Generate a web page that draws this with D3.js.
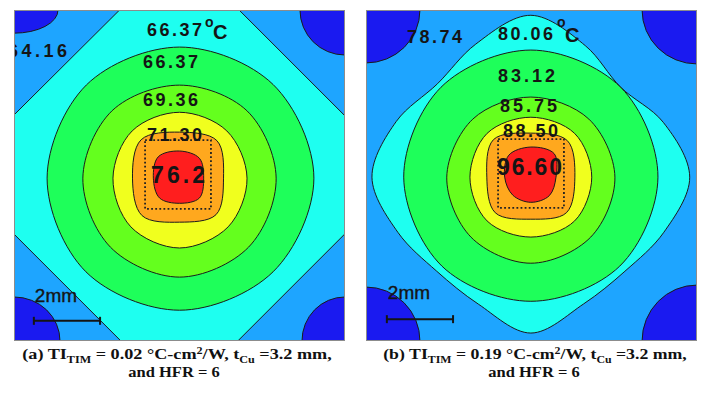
<!DOCTYPE html>
<html><head><meta charset="utf-8">
<script src="https://cdn.jsdelivr.net/npm/d3@7/dist/d3.min.js"></script>
<style>html,body{margin:0;padding:0;background:#fff}</style>
</head><body><svg id="fig" width="701" height="395"></svg>
<script>
// Top-surface temperature contours of a copper spreader, two TIM cases.
// All geometry is in mm of the 10 x 10 mm plan view.
const extentMM = [0, 10];

// Bearings (degrees, clockwise from +x in plan view) of the ring radii below
const bearings8 = [0, 45, 90, 135, 180, 225, 270, 315];
const bearings16 = [0, 22.5, 45, 67.5, 90, 112.5, 135, 157.5, 180, 202.5, 225, 247.5, 270, 292.5, 315, 337.5];

// ---- case (a): TI_TIM = 0.02 °C-cm²/W ----
const hotSpotA = [5.0, 5.08];
const isothermsA = ["64.16", "66.37", "66.37", "69.36", "71.30", "76.2"];
// corner pockets (coolest band): radii along x and y from each corner, mm
const cornerTL_A = [1.33, 0.70];
const cornerTR_A = [1.36, 1.36];
const cornerBR_A = [1.30, 1.33];
const cornerBL_A = [1.39, 1.33];
// outer isotherm: octagon vertices (x, y)
const ringCyanA = [[3.39, -0.2], [6.6, -0.2], [10.2, 3.4], [10.2, 6.56], [6.56, 10.2], [3.43, 10.2], [-0.2, 6.57], [-0.2, 3.37]];
// inner isotherm radii at bearings8
const ringGreenA  = [4.06, 4.00, 3.99, 4.00, 4.00, 3.98, 3.96, 4.00];
const ringLimeA   = [2.92, 2.95, 2.99, 2.95, 2.92, 2.88, 2.81, 2.88];
const ringYellowA = [2.04, 2.08, 2.11, 2.08, 2.01, 2.02, 1.99, 2.02];
const ringOrangeA = [1.33, 1.56, 1.33, 1.60, 1.42, 1.64, 1.39, 1.60];
const ringRedA    = [0.73, 0.85, 0.76, 0.85, 0.79, 0.91, 0.82, 0.85];
// heat source footprint [x0, y0, x1, y1]
const chipA = [3.96, 3.93, 5.95, 6.01];

// ---- case (b): TI_TIM = 0.19 °C-cm²/W ----
const hotSpotB = [4.98, 5.05];
const isothermsB = ["78.74", "80.06", "83.12", "85.75", "88.50", "96.60"];
const cornerTL_B = [1.63, 1.60];
const cornerTR_B = [1.66, 1.63];
const cornerBR_B = [1.66, 1.69];
const cornerBL_B = [1.63, 1.63];
// outer isotherm radii at bearings16
const ringCyanB   = [4.80, 4.35, 4.02, 4.15, 4.71, 4.15, 4.02, 4.35, 4.80, 4.40, 3.99, 4.35, 4.89, 4.30, 3.84, 4.33];
const ringGreenB  = [3.84, 3.80, 3.75, 3.80, 3.84, 3.84, 3.84, 3.84];
const ringLimeB   = [2.54, 2.56, 2.60, 2.56, 2.54, 2.48, 2.42, 2.48];
const ringYellowB = [1.84, 1.87, 1.81, 1.87, 1.84, 1.87, 1.81, 1.87];
const ringOrangeB = [1.33, 1.52, 1.27, 1.52, 1.33, 1.60, 1.33, 1.56];
const ringRedB    = [0.76, 0.79, 0.76, 0.77, 0.79, 0.94, 0.91, 1.00];
const chipB = [3.99, 3.90, 5.98, 5.98];

const scaleBarMM = 2;

// band colours, coolest to hottest
const bandColors = {
  coldest: "#1a1af0", cool: "#1ea5ff", cyan: "#1efff0", green: "#1eff5a",
  lime: "#64ff1e", yellow: "#f0ff1e", orange: "#ffa81e", red: "#ff1e1e"
};

const svg = d3.select("#fig");
svg.append("rect").attr("width", 701).attr("height", 395).attr("fill", "#fff");

const panels = [
  {
    id: "a", left: 14, top: 10, size: 331,
    hot: hotSpotA, corners: [cornerTL_A, cornerTR_A, cornerBR_A, cornerBL_A],
    cyan: { poly: ringCyanA },
    rings: [["green", ringGreenA], ["lime", ringLimeA], ["yellow", ringYellowA], ["orange", ringOrangeA], ["red", ringRedA]],
    chip: chipA, labels: isothermsA,
    labelPos: [[-0.18, 1.42, 1.78], [4.02, 0.79, 1.66], [3.90, 1.75, 1.66], [3.90, 2.90, 1.66], [4.02, 3.96, 1.66], [4.14, 5.23, 1.63]],
    unitPos: [[5.77, 0.51], [6.01, 0.88]],
    barText: [0.63, 8.82], bar: [0.60, 9.39],
    caption: { tag: "(a)", val: "0.02", cx: 177, w1: 310, cx2: 174, w2: 92 }
  },
  {
    id: "b", left: 366, top: 10, size: 331,
    hot: hotSpotB, corners: [cornerTL_B, cornerTR_B, cornerBR_B, cornerBL_B],
    cyan: { radii: ringCyanB },
    rings: [["green", ringGreenB], ["lime", ringLimeB], ["yellow", ringYellowB], ["orange", ringOrangeB], ["red", ringRedB]],
    chip: chipB, labels: isothermsB,
    labelPos: [[1.24, 1.00, 1.66], [3.99, 0.91, 1.66], [3.99, 2.18, 1.72], [4.05, 3.08, 1.72], [4.14, 3.84, 1.66], [3.96, 4.98, 1.96]],
    unitPos: [[5.77, 0.51], [6.01, 0.97]],
    barText: [0.66, 8.72], bar: [0.63, 9.34],
    caption: { tag: "(b)", val: "0.19", cx: 535, w1: 304, cx2: 534, w2: 92 }
  }
];

const lineColor = "#1b1b1b";
const sans = "'Liberation Sans', Arial, sans-serif";

panels.forEach(p => {
  const x = d3.scaleLinear().domain(extentMM).range([p.left, p.left + p.size]);
  const y = d3.scaleLinear().domain(extentMM).range([p.top, p.top + p.size]);
  const g = svg.append("g");
  const clipId = "clip-" + p.id;
  svg.append("clipPath").attr("id", clipId)
    .append("rect").attr("x", x(0)).attr("y", y(0))
    .attr("width", x(10) - x(0)).attr("height", y(10) - y(0));
  const plot = g.append("g").attr("clip-path", `url(#${clipId})`);

  plot.append("rect").attr("x", x(0)).attr("y", y(0))
    .attr("width", x(10) - x(0)).attr("height", y(10) - y(0))
    .attr("fill", bandColors.cool);

  // corner pockets
  const cornerXY = [[0, 0], [10, 0], [10, 10], [0, 10]];
  p.corners.forEach((c, i) => {
    plot.append("ellipse")
      .attr("cx", x(cornerXY[i][0])).attr("cy", y(cornerXY[i][1]))
      .attr("rx", x(c[0]) - x(0)).attr("ry", y(c[1]) - y(0))
      .attr("fill", bandColors.coldest).attr("stroke", lineColor).attr("stroke-width", 1);
  });

  const ringLine = d3.line().x(d => x(d[0])).y(d => y(d[1]))
    .curve(d3.curveCatmullRomClosed.alpha(0.5));
  const polar = (radii, bearings) => radii.map((r, i) => {
    const a = bearings[i] * Math.PI / 180;
    return [p.hot[0] + r * Math.cos(a), p.hot[1] + r * Math.sin(a)];
  });

  // outer isotherm
  if (p.cyan.poly) {
    plot.append("path")
      .attr("d", d3.line().x(d => x(d[0])).y(d => y(d[1])).curve(d3.curveLinearClosed)(p.cyan.poly))
      .attr("fill", bandColors.cyan).attr("stroke", lineColor).attr("stroke-width", 1);
  } else {
    plot.append("path")
      .attr("d", ringLine(polar(p.cyan.radii, bearings16)))
      .attr("fill", bandColors.cyan).attr("stroke", lineColor).attr("stroke-width", 1);
  }

  // inner isotherms
  p.rings.forEach(([band, radii]) => {
    plot.append("path")
      .attr("d", ringLine(polar(radii, bearings8)))
      .attr("fill", bandColors[band]).attr("stroke", lineColor).attr("stroke-width", 1);
  });

  // heat source outline
  plot.append("rect")
    .attr("x", x(p.chip[0])).attr("y", y(p.chip[1]))
    .attr("width", x(p.chip[2]) - x(p.chip[0])).attr("height", y(p.chip[3]) - y(p.chip[1]))
    .attr("fill", "none").attr("stroke", "#222").attr("stroke-width", 1.8)
    .attr("stroke-dasharray", "1.8 2.3");

  // isotherm labels
  p.labels.forEach((t, i) => {
    const [lx, ly, lw] = p.labelPos[i];
    const peak = i === p.labels.length - 1;
    plot.append("text")
      .attr("x", x(lx)).attr("y", y(ly))
      .attr("textLength", x(lw) - x(0)).attr("lengthAdjust", "spacing")
      .attr("font-family", sans)
      .attr("font-size", peak ? 23 : 18)
      .attr("font-weight", "bold")
      .attr("fill", "#151515")
      .text(t);
  });
  // unit next to the outer label
  plot.append("text").attr("x", x(p.unitPos[0][0])).attr("y", y(p.unitPos[0][1]))
    .attr("font-family", sans).attr("font-size", 14)
    .attr("font-weight", "bold").attr("fill", "#151515").text("o");
  plot.append("text").attr("x", x(p.unitPos[1][0])).attr("y", y(p.unitPos[1][1]))
    .attr("font-family", sans).attr("font-size", 20)
    .attr("font-weight", "bold").attr("fill", "#151515").text("C");

  // scale bar
  plot.append("text").attr("x", x(p.barText[0])).attr("y", y(p.barText[1]))
    .attr("font-family", sans).attr("font-size", 19)
    .attr("fill", "#151515").attr("stroke", "#151515").attr("stroke-width", 0.4)
    .text(scaleBarMM + "mm");
  const bx0 = x(p.bar[0]), bx1 = x(p.bar[0] + scaleBarMM), by = y(p.bar[1]);
  const bar = plot.append("g").attr("stroke", "#151515").attr("stroke-width", 2);
  bar.append("line").attr("x1", bx0).attr("x2", bx1).attr("y1", by).attr("y2", by);
  bar.append("line").attr("x1", bx0).attr("x2", bx0).attr("y1", by - 4).attr("y2", by + 4);
  bar.append("line").attr("x1", bx1).attr("x2", bx1).attr("y1", by - 4).attr("y2", by + 4);

  // frame
  g.append("rect").attr("x", x(0) + 0.5).attr("y", y(0) + 0.5)
    .attr("width", x(10) - x(0) - 1).attr("height", y(10) - y(0) - 1)
    .attr("fill", "none").attr("stroke", "#8c8c8c").attr("stroke-width", 1);

  // caption
  const serif = "'Liberation Serif', 'Times New Roman', serif";
  const c = p.caption;
  const cap1 = svg.append("g").attr("transform", `translate(${c.cx},359)`);
  const t1 = cap1.append("text").attr("text-anchor", "middle")
    .attr("font-family", serif).attr("font-weight", "bold").attr("font-size", 15).attr("fill", "#111");
  t1.append("tspan").text(c.tag + " TI");
  t1.append("tspan").attr("font-size", 10).attr("dy", 4).text("TIM");
  t1.append("tspan").attr("dy", -4).text(" = " + c.val + " \u00B0C-cm");
  t1.append("tspan").attr("font-size", 10).attr("dy", -5).text("2");
  t1.append("tspan").attr("dy", 5).text("/W, t");
  t1.append("tspan").attr("font-size", 10).attr("dy", 4).text("Cu");
  t1.append("tspan").attr("dy", -4).text(" =3.2 mm,");
  const w1 = t1.node().getBBox().width;
  t1.attr("transform", `scale(${c.w1 / w1},1)`);

  const cap2 = svg.append("g").attr("transform", `translate(${c.cx2},377)`);
  const t2 = cap2.append("text").attr("text-anchor", "middle")
    .attr("font-family", serif).attr("font-weight", "bold").attr("font-size", 15).attr("fill", "#111")
    .text("and HFR = 6");
  const w2 = t2.node().getBBox().width;
  t2.attr("transform", `scale(${c.w2 / w2},1)`);
});
</script>
</body></html>
